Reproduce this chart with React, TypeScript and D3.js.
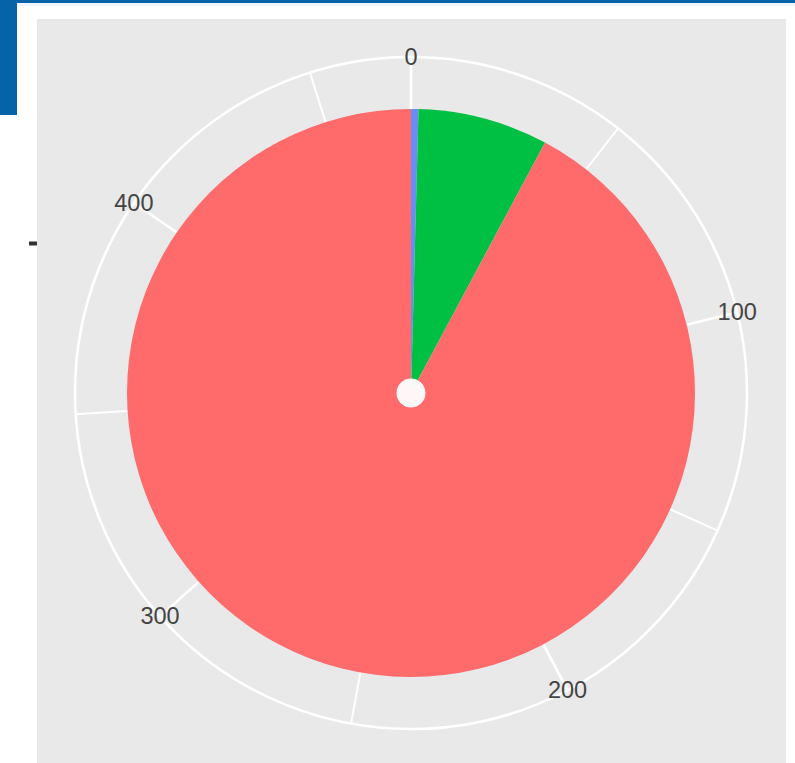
import React from "react";
import * as d3 from "d3";

// Groups stacked in the polar bar (order from 12 o'clock, clockwise)
const groups = ["group1", "group2", "group3"];
const groupCounts = [2, 35, 436];
const groupColors = ["#6B8CF6", "#00C043", "#FF6A6B"];

const majorTicks = [0, 100, 200, 300, 400];
const minorTicks = [50, 150, 250, 350, 450];
const rAxisLabels = [""];

const W = 795;
const H = 763;
const CX = 411;
const CY = 393;
const PIE_R = 284;
const OUTER_R = 336;

export default function App() {
  const total = d3.sum(groupCounts);
  const theta = d3.scaleLinear().domain([0, total]).range([0, 2 * Math.PI]);

  const stacked: { g: number; y0: number; y1: number }[] = [];
  let acc = 0;
  groupCounts.forEach((c, gi) => {
    stacked.push({ g: gi, y0: acc, y1: acc + c });
    acc += c;
  });

  const arc = d3.arc<any>().innerRadius(0).outerRadius(PIE_R);
  const pt = (v: number, r: number) => {
    const a = theta(v);
    return [r * Math.sin(a), -r * Math.cos(a)];
  };

  return (
    <svg
      width={W}
      height={H}
      style={{ position: "fixed", left: 0, top: 0 }}
      xmlns="http://www.w3.org/2000/svg"
    >
      <rect x={0} y={0} width={W} height={H} fill="#FFFFFF" />
      <rect x={37} y={19} width={749} height={H - 19} fill="#E9E9E9" />
      {/* slide decoration */}
      <rect x={0} y={0} width={W} height={3} fill="#0763A8" />
      <rect x={0} y={3} width={W} height={3} fill="#EEF5FA" />
      <rect x={0} y={0} width={17} height={115} fill="#0763A8" />

      {/* r axis tick for the single (empty) category */}
      {rAxisLabels.map((l, i) => (
        <g key={i}>
          <rect x={29} y={241.5} width={8} height={4} fill="#333333" />
          <text x={26} y={243.5} textAnchor="end" dominantBaseline="central">
            {l}
          </text>
        </g>
      ))}

      <g transform={`translate(${CX},${CY})`}>
        {minorTicks.map((t) => {
          const [x, y] = pt(t, OUTER_R);
          return (
            <line key={"mi" + t} x1={0} y1={0} x2={x} y2={y} stroke="#FFFFFF" strokeWidth={2} />
          );
        })}
        {majorTicks.map((t) => {
          const [x, y] = pt(t, OUTER_R);
          return (
            <line key={"ma" + t} x1={0} y1={0} x2={x} y2={y} stroke="#FFFFFF" strokeWidth={2.6} />
          );
        })}
        <circle r={OUTER_R} fill="none" stroke="#FFFFFF" strokeWidth={2.6} />

        {stacked.map((o, i) => (
          <path
            key={i}
            d={arc({ startAngle: theta(o.y0), endAngle: theta(o.y1) }) as string}
            fill={groupColors[o.g]}
          />
        ))}
        {/* converging white outlines of the stacked observations at the centre */}
        <circle r={14.5} fill="#FFFFFF" fillOpacity={0.95} />

        {majorTicks.map((t) => {
          const [x, y] = pt(t, OUTER_R);
          return (
            <text
              key={"lab" + t}
              x={x}
              y={y}
              textAnchor="middle"
              dominantBaseline="central"
              fontFamily="'Liberation Sans', Arial, sans-serif"
              fontSize={23.5}
              fill="#444444"
            >
              {t}
            </text>
          );
        })}
      </g>
    </svg>
  );
}
